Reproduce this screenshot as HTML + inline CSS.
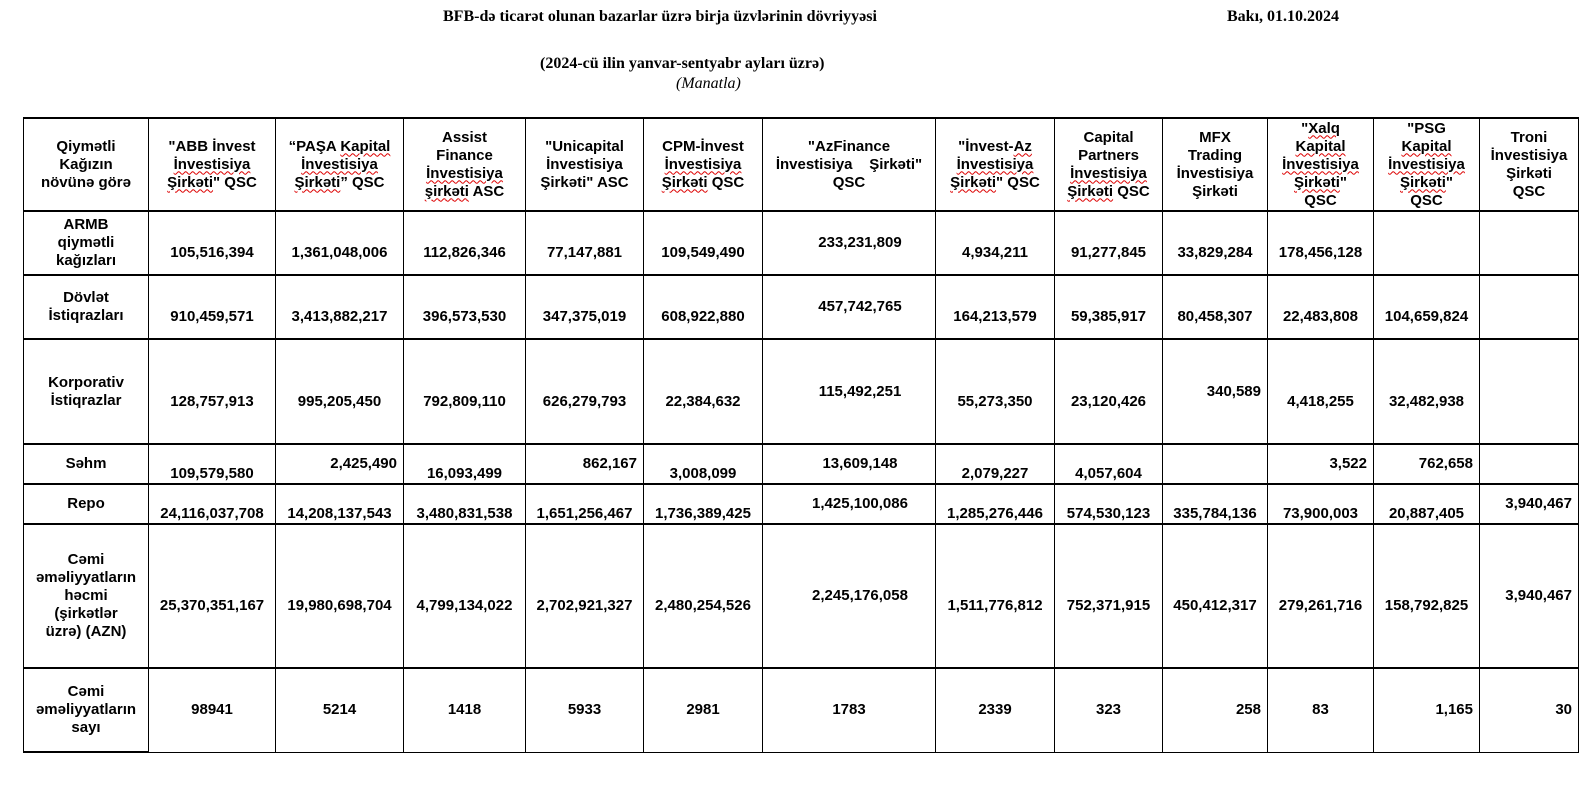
<!DOCTYPE html>
<html><head><meta charset="utf-8">
<style>
html,body{margin:0;padding:0;background:#fff;}
body{width:1596px;height:786px;position:relative;overflow:hidden;font-family:"Liberation Sans",Arial,sans-serif;}
.t{position:absolute;font-family:"Liberation Serif","Times New Roman",serif;font-weight:bold;font-size:16px;white-space:nowrap;line-height:1;}
table{position:absolute;left:23px;top:117px;border-collapse:collapse;table-layout:fixed;}
td{border:1px solid #000;font-weight:bold;font-size:15px;line-height:18px;text-align:center;vertical-align:middle;padding:0 2px;white-space:nowrap;color:#000;}
tr.h td{border-top:2px solid #000;}
td.d{padding-top:20px;}
td.r{text-align:right;padding-right:6px;}
td.az{padding-left:24px;}
.w{text-decoration:underline wavy #d00;text-decoration-thickness:1px;text-underline-offset:2px;}
</style></head><body>
<div class="t" style="left:443px;top:9px;">BFB-də ticarət olunan bazarlar üzrə birja üzvlərinin dövriyyəsi</div>
<div class="t" style="left:1227px;top:9px;">Bakı, 01.10.2024</div>
<div class="t" style="left:540px;top:56px;">(2024-cü ilin yanvar-sentyabr ayları üzrə)</div>
<div class="t" style="left:676px;top:76px;font-weight:normal;font-style:italic;">(Manatla)</div>
<table>
<colgroup>
<col style="width:125px"><col style="width:127px"><col style="width:128px"><col style="width:122px"><col style="width:118px"><col style="width:119px"><col style="width:173px"><col style="width:119px"><col style="width:108px"><col style="width:105px"><col style="width:106px"><col style="width:106px"><col style="width:99px">
</colgroup>
<tr class="h" style="height:93px">
<td>Qiymətli<br>Kağızın<br>növünə görə</td>
<td>"ABB İnvest<br><span class="w">İnvestisiya</span><br><span class="w">Şirkəti</span>" QSC</td>
<td>“PAŞA <span class="w">Kapital</span><br><span class="w">İnvestisiya</span><br><span class="w">Şirkəti</span>” QSC</td>
<td>Assist<br>Finance<br><span class="w">İnvestisiya</span><br><span class="w">şirkəti</span> ASC</td>
<td>"Unicapital<br>İnvestisiya<br>Şirkəti" ASC</td>
<td>CPM-İnvest<br><span class="w">İnvestisiya</span><br><span class="w">Şirkəti</span> QSC</td>
<td>"AzFinance<br>İnvestisiya &nbsp;&nbsp; Şirkəti"<br>QSC</td>
<td>"İnvest-<span class="w">Az</span><br><span class="w">İnvestisiya</span><br><span class="w">Şirkəti</span>" QSC</td>
<td>Capital<br>Partners<br><span class="w">İnvestisiya</span><br><span class="w">Şirkəti</span> QSC</td>
<td>MFX<br>Trading<br>İnvestisiya<br>Şirkəti</td>
<td>"<span class="w">Xalq</span><br><span class="w">Kapital</span><br><span class="w">İnvestisiya</span><br><span class="w">Şirkəti</span>"<br>QSC</td>
<td>"PSG<br><span class="w">Kapital</span><br><span class="w">İnvestisiya</span><br><span class="w">Şirkəti</span>"<br>QSC</td>
<td>Troni<br>İnvestisiya<br>Şirkəti<br>QSC</td>
</tr>
<tr class="h" style="height:64px">
<td>ARMB<br>qiymətli<br>kağızları</td>
<td class="d">105,516,394</td><td class="d">1,361,048,006</td><td class="d">112,826,346</td><td class="d">77,147,881</td><td class="d">109,549,490</td>
<td class="az">233,231,809</td><td class="d">4,934,211</td><td class="d">91,277,845</td><td class="d">33,829,284</td><td class="d">178,456,128</td><td></td><td></td>
</tr>
<tr class="h" style="height:64px">
<td>Dövlət<br>İstiqrazları</td>
<td class="d">910,459,571</td><td class="d">3,413,882,217</td><td class="d">396,573,530</td><td class="d">347,375,019</td><td class="d">608,922,880</td>
<td class="az">457,742,765</td><td class="d">164,213,579</td><td class="d">59,385,917</td><td class="d">80,458,307</td><td class="d">22,483,808</td><td class="d">104,659,824</td><td></td>
</tr>
<tr class="h" style="height:105px">
<td>Korporativ<br>İstiqrazlar</td>
<td class="d">128,757,913</td><td class="d">995,205,450</td><td class="d">792,809,110</td><td class="d">626,279,793</td><td class="d">22,384,632</td>
<td class="az">115,492,251</td><td class="d">55,273,350</td><td class="d">23,120,426</td><td class="r">340,589</td><td class="d">4,418,255</td><td class="d">32,482,938</td><td></td>
</tr>
<tr class="h" style="height:38px">
<td>Səhm</td>
<td class="d">109,579,580</td><td class="r">2,425,490</td><td class="d">16,093,499</td><td class="r">862,167</td><td class="d">3,008,099</td>
<td class="az">13,609,148</td><td class="d">2,079,227</td><td class="d">4,057,604</td><td></td><td class="r">3,522</td><td class="r">762,658</td><td></td>
</tr>
<tr class="h" style="height:38px">
<td>Repo</td>
<td class="d">24,116,037,708</td><td class="d">14,208,137,543</td><td class="d">3,480,831,538</td><td class="d">1,651,256,467</td><td class="d">1,736,389,425</td>
<td class="az">1,425,100,086</td><td class="d">1,285,276,446</td><td class="d">574,530,123</td><td class="d">335,784,136</td><td class="d">73,900,003</td><td class="d">20,887,405</td><td class="r">3,940,467</td>
</tr>
<tr class="h" style="height:144px">
<td>Cəmi<br>əməliyyatların<br>həcmi<br>(şirkətlər<br>üzrə) (AZN)</td>
<td class="d">25,370,351,167</td><td class="d">19,980,698,704</td><td class="d">4,799,134,022</td><td class="d">2,702,921,327</td><td class="d">2,480,254,526</td>
<td class="az">2,245,176,058</td><td class="d">1,511,776,812</td><td class="d">752,371,915</td><td class="d">450,412,317</td><td class="d">279,261,716</td><td class="d">158,792,825</td><td class="r">3,940,467</td>
</tr>
<tr class="h" style="height:84px">
<td style="border-bottom:2px solid #000">Cəmi<br>əməliyyatların<br>sayı</td>
<td>98941</td><td>5214</td><td>1418</td><td>5933</td><td>2981</td><td>1783</td><td>2339</td><td>323</td><td class="r">258</td><td>83</td><td class="r">1,165</td><td class="r">30</td>
</tr>
</table>
</body></html>
